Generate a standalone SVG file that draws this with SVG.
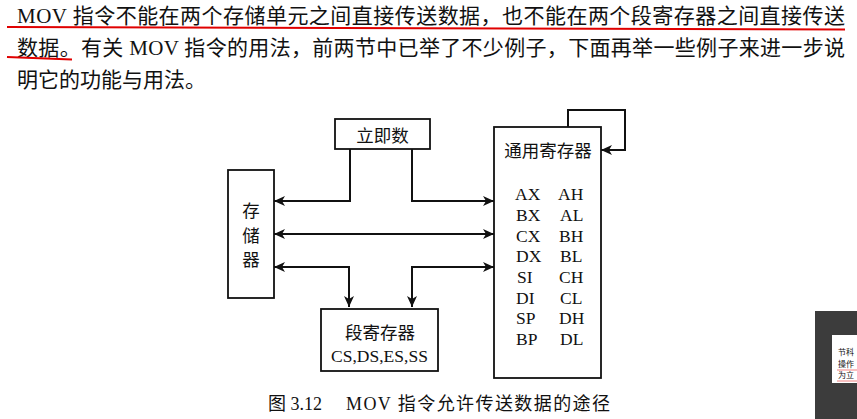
<svg xmlns="http://www.w3.org/2000/svg" width="857" height="419" viewBox="0 0 857 419">
<style>
.t{font-family:"Liberation Serif","Noto Sans CJK SC",serif;fill:#111}
.body{font-size:21px}
.lbl{font-size:17.5px}
.reg{font-size:17.5px}
.box{fill:#fff;stroke:#111;stroke-width:1.8}
.con{fill:none;stroke:#111;stroke-width:2}
.red{stroke:#e00000;stroke-width:2;fill:none}
</style>
<defs>
<marker id="ah" viewBox="0 0 12 10" refX="11" refY="5" markerWidth="12" markerHeight="10" markerUnits="userSpaceOnUse" orient="auto-start-reverse">
<path d="M0,0 L11,5 L0,10 L3,5 z" fill="#111"/>
</marker>
</defs>
<rect width="857" height="419" fill="#fff"/>
<g id="paragraph">
<text class="t body" x="17" y="23" textLength="828" lengthAdjust="spacing">MOV 指令不能在两个存储单元之间直接传送数据，也不能在两个段寄存器之间直接传送</text>
<text class="t body" x="17" y="55" textLength="828" lengthAdjust="spacing">数据。有关 MOV 指令的用法，前两节中已举了不少例子，下面再举一些例子来进一步说</text>
<text class="t body" x="17" y="87">明它的功能与用法。</text>
<path class="red" d="M7,27 L845,29.5"/>
<path class="red" d="M7,57 L72,59.5"/>
</g>
<g id="node-immediate">
<rect class="box" x="335" y="119" width="95" height="30"/>
<text class="t lbl" x="382.5" y="142" text-anchor="middle">立即数</text>
</g>
<g id="node-memory">
<rect class="box" x="228" y="170" width="46" height="128"/>
<text class="t lbl" x="251" y="217" text-anchor="middle">存</text>
<text class="t lbl" x="251" y="242" text-anchor="middle">储</text>
<text class="t lbl" x="251" y="266" text-anchor="middle">器</text>
</g>
<g id="node-general">
<rect class="box" x="494" y="127" width="107" height="251"/>
<text class="t lbl" x="548" y="157" text-anchor="middle" font-size="18">通用寄存器</text>
<g class="t reg">
<text x="515" y="200">AX</text><text x="558" y="200">AH</text>
<text x="516" y="221">BX</text><text x="560" y="221">AL</text>
<text x="516" y="242">CX</text><text x="559" y="242">BH</text>
<text x="516" y="262">DX</text><text x="560" y="262">BL</text>
<text x="517" y="283">SI</text><text x="559" y="283">CH</text>
<text x="516" y="304">DI</text><text x="560" y="304">CL</text>
<text x="516" y="324">SP</text><text x="559" y="324">DH</text>
<text x="516" y="345">BP</text><text x="560" y="345">DL</text>
</g>
</g>
<g id="node-segment">
<rect class="box" x="321" y="309" width="117" height="62"/>
<text class="t lbl" x="380" y="339" text-anchor="middle">段寄存器</text>
<text class="t lbl" x="379.5" y="362" text-anchor="middle">CS,DS,ES,SS</text>
</g>
<g id="connectors">
<path class="con" d="M350,149 V201 H274" marker-end="url(#ah)"/>
<path class="con" d="M412,149 V201 H494" marker-end="url(#ah)"/>
<path class="con" d="M274,234 H494" marker-start="url(#ah)" marker-end="url(#ah)"/>
<path class="con" d="M274,267 H349 V307" marker-start="url(#ah)" marker-end="url(#ah)"/>
<path class="con" d="M494,267 H412 V307" marker-start="url(#ah)" marker-end="url(#ah)"/>
<path class="con" d="M568,127 V110 H625 V150 H601" marker-end="url(#ah)"/>
</g>
<g id="caption">
<text class="t" font-size="18" x="268" y="410">图 3.12</text>
<text class="t" font-size="18" x="346" y="410" textLength="264" lengthAdjust="spacing">MOV 指令允许传送数据的途径</text>
</g>
<g id="corner-thumbnail">
<rect x="815" y="311" width="42" height="108" fill="#3c3c3c"/>
<rect x="832" y="335" width="25" height="48" fill="#fff"/>
<text class="t" font-size="8" x="838" y="355">节科</text>
<text class="t" font-size="8" x="838" y="367">操作</text>
<text class="t" font-size="8" x="838" y="378">为立</text>
<path d="M837,370 H857 M837,381 H857" stroke="#f08080" stroke-width="1"/>
</g>
</svg>
